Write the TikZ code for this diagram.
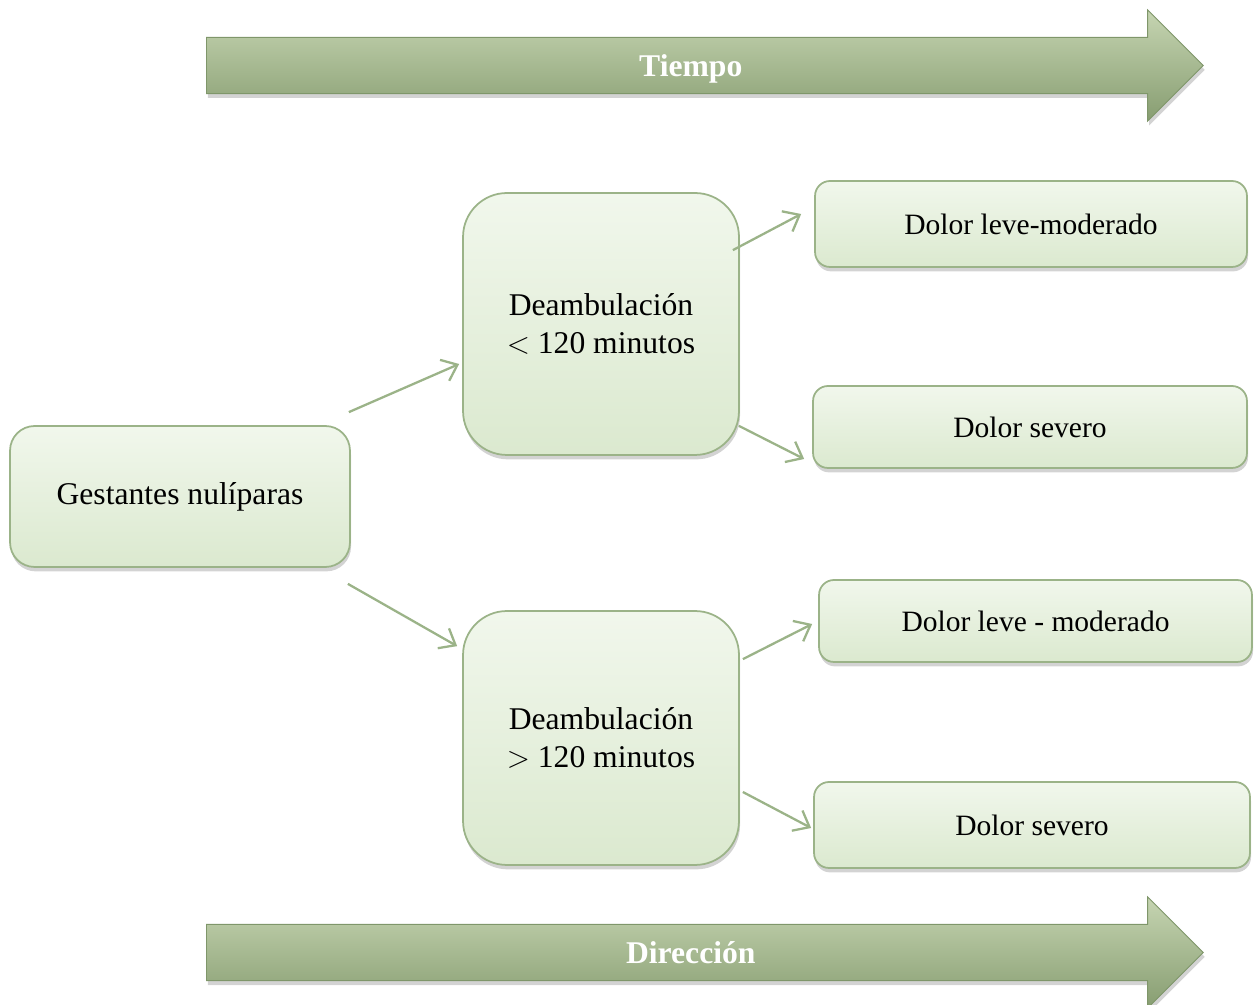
\documentclass[tikz,border=0pt]{standalone}
\usepackage{fontspec}
\setmainfont{Liberation Serif}
\usepackage{xcolor}
\usepackage{tikz}
\usetikzlibrary{shapes,arrows.meta,shadows}

\definecolor{boxtop}{HTML}{F1F7EC}
\definecolor{boxbot}{HTML}{DBE9CF}
\definecolor{boxline}{HTML}{9BB388}
\definecolor{bartop}{HTML}{C6D5B2}
\definecolor{barmid}{HTML}{9EB288}
\definecolor{barbot}{HTML}{879D71}
\definecolor{barline}{HTML}{7F966A}

\begin{document}
\begin{tikzpicture}[x=0.02cm, y=0.02cm,
        box/.style={draw=boxline, line width=1pt, top color=boxtop, bottom color=boxbot,
            align=center, inner sep=0pt, font=\fontsize{18}{21.5}\selectfont,
            drop shadow={shadow xshift=0.6pt, shadow yshift=-2.5pt, opacity=0.35}},
        small/.style={font=\fontsize{16.8}{20}\selectfont},
        bigbar/.style={single arrow, draw=barline, line width=0.5pt,
            top color=bartop, middle color=barmid, bottom color=barbot,
            minimum height=19.94cm, minimum width=2.2cm, single arrow head extend=0.55cm,
            inner xsep=0pt, inner ysep=9.5pt, text height=12.5pt, text depth=0pt,
            anchor=tail, text=white, font=\fontsize{18}{21.5}\selectfont\bfseries,
            drop shadow={shadow xshift=0.8pt, shadow yshift=-2.5pt, opacity=0.35}},
        conn/.style={draw=boxline, line width=1.3pt, -{Straight Barb[length=8pt,width=13pt]}}]
        \useasboundingbox (0,0) rectangle (1254,1004);

        % Top and bottom bars
        \node[bigbar] (tiempo) at (206,938.5) {Tiempo};
        \node[bigbar] (direccion) at (206,51.5) {Dirección};

        % First column
        \node[box, minimum width=6.8cm, minimum height=2.82cm, rounded corners=14pt] (gest) at (180,507.5) {Gestantes nulíparas};

        % Second column
        \node[box, minimum width=5.52cm, minimum height=5.24cm, rounded corners=25pt] (deambA) at (601,680) {Deambulación\\$<$ 120 minutos};
        \node[box, minimum width=5.52cm, minimum height=5.08cm, rounded corners=25pt] (deambB) at (601,266) {Deambulación\\$>$ 120 minutos};

        % Third column
        \node[box, small, minimum width=8.64cm, minimum height=1.72cm, rounded corners=8.5pt] (leveA) at (1031,780) {Dolor leve-moderado};
        \node[box, small, minimum width=8.68cm, minimum height=1.64cm, rounded corners=8.5pt] (severoA) at (1030,577) {Dolor severo};
        \node[box, small, minimum width=8.66cm, minimum height=1.64cm, rounded corners=8.5pt] (leveB) at (1035.5,383) {Dolor leve - moderado};
        \node[box, small, minimum width=8.72cm, minimum height=1.72cm, rounded corners=8.5pt] (severoB) at (1032,179) {Dolor severo};

        % Connectors
        \draw[conn] ([shift={(-2,13)}]gest.north east) -- ([shift={(-3,-40)}]deambA.west);
        \draw[conn] ([shift={(-3,-16)}]gest.south east) -- ([shift={(-5,-36)}]deambB.north west);
        \draw[conn] ([shift={(-7,-58)}]deambA.north east) -- ([shift={(-13,10)}]leveA.west);
        \draw[conn] ([shift={(-1,30)}]deambA.south east) -- ([shift={(-8,-32)}]severoA.west);
        \draw[conn] ([shift={(3,-49)}]deambB.north east) -- ([shift={(-6,-3)}]leveB.west);
        \draw[conn] ([shift={(3,-54)}]deambB.east) -- ([shift={(-2,-3)}]severoB.west);
    \end{tikzpicture}
\end{document}
